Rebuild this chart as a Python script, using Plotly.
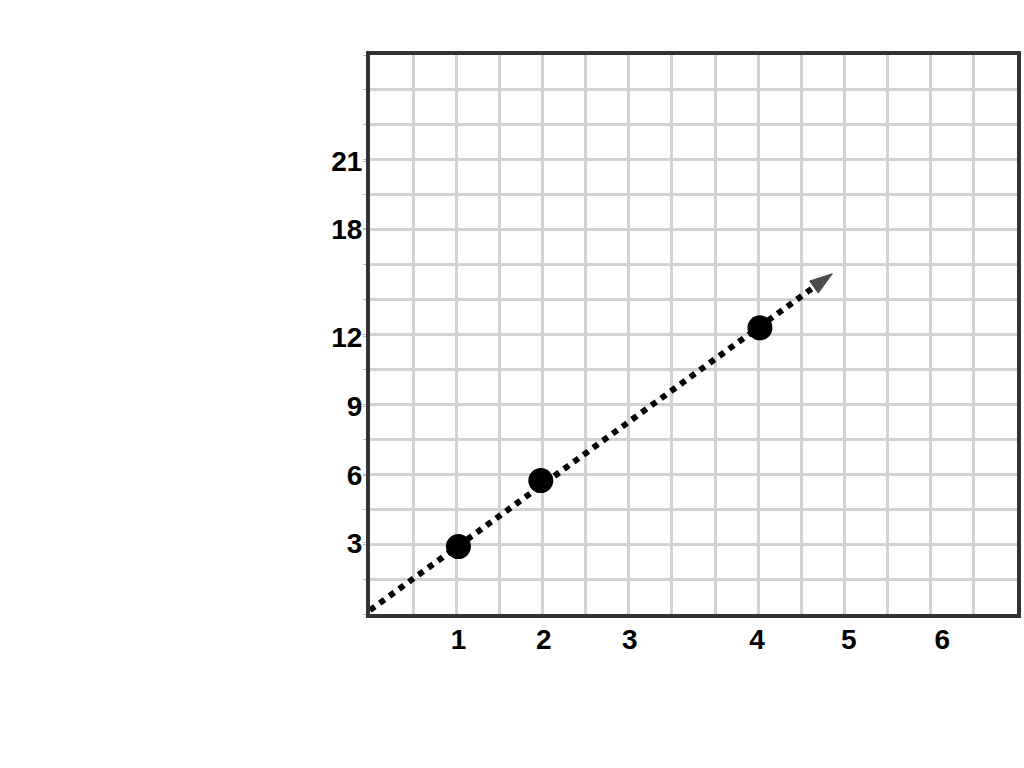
import plotly.graph_objects as go

# Axis positions are in grid squares (x: 15 columns, y: 16 rows)
x_tick_pos = [2.05, 4.03, 6.02, 8.97, 11.1, 13.27]
x_tick_text = ["1", "2", "3", "4", "5", "6"]
y_tick_pos = [2.04, 3.97, 5.95, 7.93, 11.02, 12.95]
y_tick_text = ["3", "6", "9", "12", "18", "21"]

# Points (in grid units)
pt_x = [2.05, 3.96, 9.04]
pt_y = [1.93, 3.82, 8.19]

# Dotted arrow line start/end (grid units)
line_x = [0.0, 10.72]
line_y = [0.11, 9.74]

fig = go.Figure()
fig.add_trace(go.Scatter(
    x=line_x, y=line_y, mode="lines+markers",
    line=dict(color="black", width=6, dash="dot"),
    marker=dict(symbol=["circle", "arrow"], size=[0, 24], color="black",
                line=dict(width=1, color="black"),
                angleref="previous"),
    hoverinfo="skip", showlegend=False,
))
fig.add_trace(go.Scatter(
    x=pt_x, y=pt_y, mode="markers",
    marker=dict(size=25, color="black"),
    showlegend=False,
))

font = dict(family="Liberation Sans, Arial, sans-serif", size=28, color="black", weight="bold")

fig.update_xaxes(
    range=[0, 15], tickvals=x_tick_pos, ticktext=x_tick_text, tickfont=font,
    showgrid=False, zeroline=False, ticks="", ticklabelstandoff=-3,
    showline=True, linewidth=4, linecolor="#333", mirror=True,
    minor=dict(dtick=1, tick0=0, showgrid=True, gridcolor="#d2d2d2", gridwidth=3),
)
fig.update_yaxes(
    range=[0, 16], tickvals=y_tick_pos, ticktext=y_tick_text, tickfont=font,
    showgrid=False, zeroline=False, ticks="outside", ticklen=3, tickcolor="#bbb",
    ticklabelstandoff=-5,
    showline=True, linewidth=4, linecolor="#333", mirror=True,
    minor=dict(dtick=1, tick0=0, showgrid=True, gridcolor="#d2d2d2", gridwidth=3,
               ticks="outside", ticklen=3, tickcolor="#bbb"),
)
fig.update_layout(
    width=1024, height=768,
    margin=dict(l=370, r=3, t=55, b=154),
    paper_bgcolor="white", plot_bgcolor="white",
)
fig.write_html(
    "out.html",
    config={"displayModeBar": False},
    post_script="document.body.style.margin='0';document.body.style.overflow='hidden';",
)
